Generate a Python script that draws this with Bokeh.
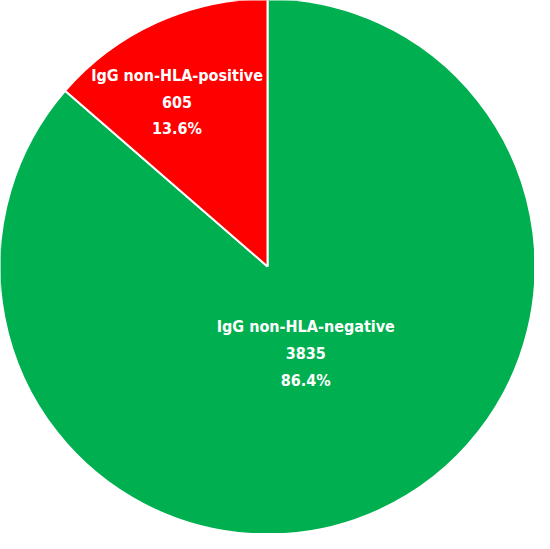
import math
from bokeh.plotting import figure
from bokeh.models import Range1d, ColumnDataSource
from bokeh.core.properties import value
from bokeh.embed import file_html
from bokeh.resources import INLINE

categories = ["IgG non-HLA-negative", "IgG non-HLA-positive"]
counts = [3835, 605]
percents = ["86.4%", "13.6%"]
colors = ["#00B050", "#FF0000"]
label_radius_frac = [0.355, 0.70]
label_angle_shift_deg = [-0.8, 4.3]

W, H = 534, 533
cx, cy, R = 267, 267, 268

total = sum(counts)
starts, ends, lx, ly, texts = [], [], [], [], []
angle = math.pi / 2
for cat, c, pct, f, sh in zip(categories, counts, percents, label_radius_frac, label_angle_shift_deg):
    sweep = 2 * math.pi * c / total
    end = angle
    start = angle - sweep
    starts.append(start)
    ends.append(end)
    mid = (start + end) / 2 + math.radians(sh)
    lx.append(cx + f * R * math.cos(mid))
    ly.append(cy + f * R * math.sin(mid))
    texts.append(f"{cat}\n{c}\n{pct}")
    angle = start

src = ColumnDataSource(dict(start=starts, end=ends, color=colors,
                            x=[cx] * 2, y=[cy] * 2, lx=lx, ly=ly, text=texts))

p = figure(width=W, height=H, output_backend="svg", toolbar_location=None,
           x_range=Range1d(0, W), y_range=Range1d(0, H), min_border=0)
p.axis.visible = False
p.grid.visible = False
p.outline_line_color = None
p.background_fill_color = "white"

p.wedge(x="x", y="y", radius=R, start_angle="start", end_angle="end",
        fill_color="color", line_color="white", line_width=2, source=src)
p.text(x="lx", y="ly", text="text", source=src, text_color="white",
       text_font=value("DejaVu Sans Condensed"), text_font_style="bold",
       text_font_size="16px", text_align="center", text_baseline="middle",
       text_line_height=1.4)

open("out.html", "w").write(file_html(p, INLINE))
